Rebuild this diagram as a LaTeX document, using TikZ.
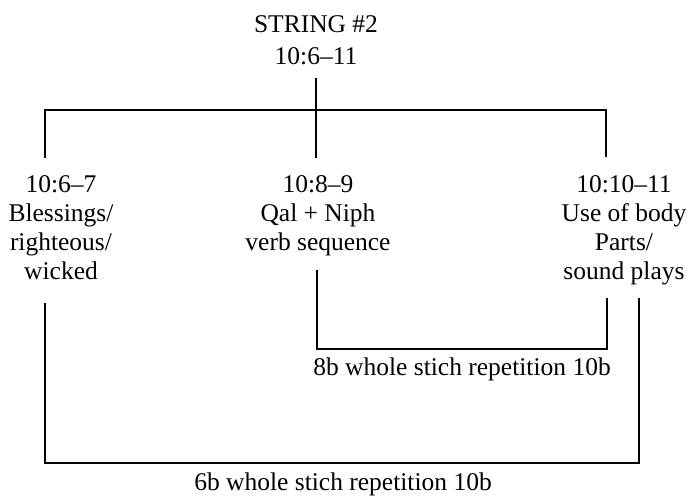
\documentclass[tikz,border=0pt]{standalone}
\usepackage{fontspec}
\setmainfont{Liberation Serif}
\begin{document}
\begin{tikzpicture}[x=0.5pt, y=-0.5pt, line width=0.7pt,
	txt/.style={align=center, inner sep=0pt, font=\fontsize{12.75}{14.4}\selectfont},
	head/.style={txt, font=\fontsize{12.75}{16}\selectfont}]
\useasboundingbox (0,0) rectangle (690,497);
	% text
	\node[head, anchor=north] (title) at (316,15) {STRING \#2\\10:6–11};
	\node[txt, anchor=north] (blessings) at (61,175) {10:6–7\\Blessings/\\righteous/\\wicked};
	\node[txt, anchor=north] (qal) at (318,175) {10:8–9\\Qal + Niph\\verb sequence};
	\node[txt, anchor=north] (body) at (624,175) {10:10–11\\Use of body\\Parts/\\sound plays};
	\node[txt, anchor=base] (rep8) at (462,375) {8b whole stich repetition 10b};
	\node[txt, anchor=base] (rep6) at (343,490) {6b whole stich repetition 10b};
	% line ends
	\coordinate (stem top) at (316,78);
	\coordinate (stem foot) at (316,158);
	\coordinate (hub) at (316,110);
	\coordinate (left top) at (45,158);
	\coordinate (right top) at (606,157);
	\coordinate (qal foot) at (317,270);
	\coordinate (body foot) at (607,298);
	\coordinate (left foot) at (45,303);
	\coordinate (body foot2) at (639,298);
	% tree
	\draw (stem top) -- (stem foot);
	\draw (left top) |- (hub) -| (right top);
	% repetitions
	\draw (qal foot) -- ++(0,79) -| (body foot);
	\draw (left foot) -- ++(0,160) -| (body foot2);
\end{tikzpicture}
\end{document}
